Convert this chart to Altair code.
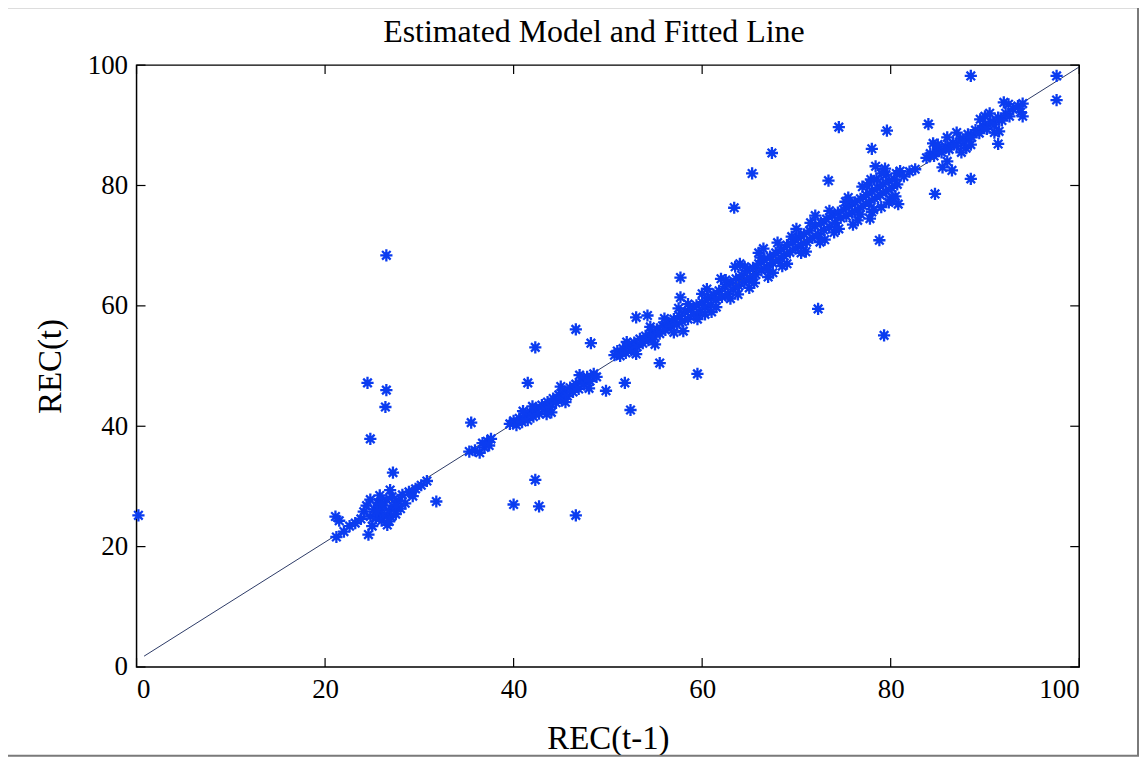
import altair as alt
import pandas as pd

# ---- data ----
rec_prev = [
    0.2, 26.5, 24.5, 26.5, 26.4, 24.8, 35.5, 42.3, 40.0, 42.7, 46.6, 42.3, 46.6, 48.2, 41.5,
    49.8, 51.8, 52.4, 53.0, 54.2, 55.5, 57.7, 57.7, 59.5, 63.4, 65.3, 67.4, 73.4, 72.3, 74.5,
    79.6, 84.0, 78.0, 84.7, 78.8, 79.3, 88.5, 97.6, 97.6, 91.4, 88.5, 31.8, 27.2,
    21.2, 21.5, 22.6, 23.2, 23.8, 24.1, 24.4, 24.6, 24.8, 25.0, 25.2, 25.4, 25.6, 25.8, 26.0,
    26.1, 26.3, 26.5, 26.6, 26.8, 27.0, 27.1, 27.3, 27.5, 27.8, 28.0, 28.2, 28.5, 28.9, 29.3,
    29.6, 30.2, 30.8, 21.1, 22.0, 25.8, 26.9,
    35.3, 35.9, 36.4, 36.9, 37.2, 37.6, 36.7, 37.4,
    39.6, 40.0, 40.3, 40.6, 40.9, 41.2, 41.5, 41.8, 42.1, 42.4, 42.7, 43.0, 43.3, 43.6, 43.9,
    44.2, 44.5, 44.8, 45.1, 45.4, 45.7, 46.0, 46.3, 46.6, 46.9, 47.2, 47.5, 47.8, 48.1, 48.5,
    48.8, 44.0, 45.5, 42.0,
    50.7, 51.0, 51.3, 51.6, 51.9, 52.2, 52.5, 52.8, 53.1, 53.4, 53.7, 54.0, 54.3, 54.6, 54.9,
    55.2, 55.5, 55.8, 56.1, 56.4,
    56.7, 57.0, 57.3, 57.6, 57.9, 58.2, 58.5, 58.8, 59.1, 59.4, 59.7, 60.0, 60.3, 60.6, 60.9,
    61.2, 61.5, 61.8, 62.1, 62.4, 62.7, 63.0, 63.3, 63.6, 63.9, 64.2, 64.5, 64.8, 65.1, 65.4,
    65.7, 66.0, 66.3, 66.6, 66.9, 67.2, 67.5, 67.8, 68.1, 68.4, 68.7, 69.0, 69.3, 69.6, 69.9,
    70.2, 70.5, 70.8, 71.1, 71.4, 71.7, 72.0, 72.3, 72.6, 72.9, 73.2, 73.5, 73.8, 74.1, 74.4,
    58.0, 60.5, 62.0, 63.0, 64.0, 65.0, 66.0, 67.0, 68.0, 69.0, 70.0, 71.0, 72.0, 73.0, 66.5,
    67.5, 63.5, 61.0, 74.0,
    74.7, 75.0, 75.3, 75.6, 75.9, 76.2, 76.5, 76.8, 77.1, 77.4, 77.7, 78.0, 78.3, 78.6, 78.9,
    79.2, 79.5, 79.8, 80.1, 80.4, 80.7, 78.0, 79.0, 80.0, 77.0, 79.5, 76.0, 80.5, 78.5, 81.0,
    81.4, 82.0, 82.6, 77.8, 79.4, 80.8,
    83.8, 84.2, 84.6, 85.0, 85.4, 85.8, 86.2, 86.6, 87.0, 87.4, 87.8, 88.2, 88.6, 89.0, 89.4,
    89.8, 90.2, 90.6, 91.0, 91.4, 91.8, 92.2, 92.6, 93.0, 93.5, 94.0, 93.8, 85.5, 86.0, 86.5,
    88.0, 87.0, 90.0, 92.0, 91.5, 94.0, 84.5,
    55.0, 56.0, 57.0, 58.5, 59.5, 60.0, 61.5, 62.5, 63.8, 64.5, 65.5, 66.2, 67.0, 68.5, 69.5,
    70.5, 71.5, 72.5, 73.5, 74.5, 75.5, 76.5, 77.5, 78.2, 79.0, 80.2, 75.2, 76.8, 77.9, 79.8,
    80.6, 78.4, 60.3, 57.5, 53.0, 52.0, 54.5, 47.0, 45.0, 43.5, 41.0, 48.0, 86.0, 88.5, 89.5,
    91.0, 92.5, 85.0, 87.5, 90.5, 26.0, 25.5, 27.5, 24.8, 26.8,
]
rec_curr = [
    25.2, 68.4, 47.2, 46.0, 43.2, 37.9, 40.6, 31.1, 27.0, 26.7, 25.2, 53.1, 56.1, 53.8, 47.2,
    45.9, 47.2, 42.7, 58.1, 58.4, 50.5, 64.7, 61.4, 48.7, 76.3, 82.0, 85.4, 80.8, 59.5, 89.7,
    89.1, 90.2, 86.1, 78.6, 70.9, 55.1, 98.2, 98.2, 94.2, 86.9, 81.1, 27.5, 32.3,
    21.6, 24.3, 23.4, 23.9, 24.6, 25.8, 26.8, 22.0, 25.0, 23.4, 26.2, 24.7, 27.3, 25.6, 24.3,
    26.8, 25.2, 27.8, 23.6, 26.0, 24.9, 28.3, 26.6, 25.4, 27.6, 26.3, 28.6, 27.2, 29.1, 28.4,
    29.6, 30.2, 30.9, 25.0, 22.5, 28.5, 29.4,
    35.8, 36.0, 35.6, 36.5, 37.5, 37.9, 37.2, 36.8,
    40.4, 40.9, 40.2, 41.3, 40.7, 41.8, 41.0, 42.3, 41.6, 42.9, 42.1, 43.5, 42.8, 44.0, 43.2,
    44.6, 43.9, 45.2, 44.5, 45.8, 45.0, 46.4, 45.7, 47.0, 46.2, 47.6, 46.9, 48.2, 47.5, 48.7,
    48.2, 42.3, 44.0, 43.3,
    51.8, 52.5, 51.7, 52.9, 52.2, 53.4, 52.6, 53.9, 53.2, 54.5, 53.8, 55.0, 54.3, 55.6, 54.9,
    56.1, 55.4, 56.7, 56.0, 57.2,
    56.6, 57.8, 56.9, 58.3, 57.4, 59.0, 57.8, 59.5, 58.5, 60.1, 59.0, 60.6, 59.7, 61.3, 60.2,
    61.9, 61.0, 62.5, 61.5, 63.2, 62.0, 63.8, 62.7, 64.5, 63.3, 65.1, 64.0, 65.8, 64.6, 66.3,
    65.2, 67.0, 65.9, 67.6, 66.4, 68.2, 67.1, 68.8, 67.6, 69.4, 68.3, 70.1, 68.9, 70.6, 69.5,
    71.3, 70.1, 71.9, 70.6, 72.5, 71.3, 73.2, 71.9, 73.8, 72.6, 74.4, 73.1, 75.0, 73.8, 75.5,
    55.8, 62.8, 64.5, 61.2, 67.0, 63.0, 68.8, 64.8, 70.5, 67.0, 72.8, 69.0, 75.0, 71.0, 69.5,
    65.5, 66.5, 59.0, 72.2,
    74.6, 76.0, 74.9, 76.6, 75.5, 77.2, 76.0, 77.8, 76.6, 78.4, 77.2, 79.0, 77.8, 79.6, 78.4,
    80.2, 79.0, 80.8, 79.6, 81.0, 80.2, 75.6, 76.4, 77.6, 79.8, 81.8, 73.5, 78.2, 81.0, 82.4,
    81.5, 82.3, 82.7, 74.5, 82.8, 76.9,
    84.6, 85.3, 84.9, 85.9, 85.5, 86.5, 86.0, 87.1, 86.6, 87.8, 87.3, 88.5, 88.0, 89.2, 88.7,
    89.9, 89.4, 90.6, 90.1, 91.3, 90.8, 92.0, 91.5, 92.7, 93.2, 93.6, 92.2, 83.0, 84.0, 82.5,
    86.2, 88.8, 91.5, 93.8, 89.0, 91.5, 87.0,
    53.6, 57.9, 55.6, 60.3, 57.8, 62.0, 59.8, 64.3, 61.9, 66.5, 63.8, 68.0, 66.0, 66.6, 71.5,
    68.8, 73.8, 70.6, 75.8, 72.8, 78.0, 74.2, 80.0, 76.0, 82.0, 78.0, 77.3, 75.2, 81.0, 77.2,
    82.0, 83.2, 58.6, 59.6, 52.0, 54.0, 56.5, 48.5, 46.6, 42.0, 42.5, 46.3, 88.0, 86.8, 91.0,
    88.8, 93.5, 86.8, 85.5, 92.0, 27.0, 25.8, 26.8, 27.8, 24.2,
]
fit_x = [0.8, 100.0]
fit_y = [1.8, 99.7]
tick_values = [0, 20, 40, 60, 80, 100]
title_text = ["Estimated Model and Fitted Line"]

# ---- layout constants ----
W, H = 946, 604
SERIF = "Liberation Serif"
TICK = 9
ASTERISK = "M0,-1L0,1M-1,0L1,0M-0.7,-0.7L0.7,0.7M-0.7,0.7L0.7,-0.7"

pts = pd.DataFrame({"prev": rec_prev, "curr": rec_curr})
fit = pd.DataFrame({"prev": fit_x, "curr": fit_y})
ticks = pd.DataFrame({"v": tick_values})
ttl = pd.DataFrame({"t": title_text})

xs = alt.Scale(domain=[0, 100], nice=False, zero=False)
ys = alt.Scale(domain=[0, 100], nice=False, zero=False)

x_axis = alt.Axis(values=tick_values, title="REC(t-1)", tickSize=0, domain=False, grid=False,
                  labelPadding=10, titlePadding=20)
y_axis = alt.Axis(values=tick_values, title="REC(t)", tickSize=0, domain=False, grid=False,
                  labelPadding=9, titlePadding=20)

line = alt.Chart(fit).mark_line(color="#2c3a66", strokeWidth=1).encode(
    x=alt.X("prev:Q", scale=xs, axis=x_axis),
    y=alt.Y("curr:Q", scale=ys, axis=y_axis),
)

points = alt.Chart(pts).mark_point(
    shape=ASTERISK, filled=False, color="#0b3cf0", strokeWidth=2.3, size=150, opacity=1
).encode(
    x=alt.X("prev:Q", scale=xs),
    y=alt.Y("curr:Q", scale=ys),
)

tick_bottom = alt.Chart(ticks).mark_rule(color="black", strokeWidth=1.2).encode(
    x=alt.X("v:Q", scale=xs), y=alt.value(H), y2=alt.value(H - TICK))
tick_top = alt.Chart(ticks).mark_rule(color="black", strokeWidth=1.2).encode(
    x=alt.X("v:Q", scale=xs), y=alt.value(0), y2=alt.value(TICK))
tick_left = alt.Chart(ticks).mark_rule(color="black", strokeWidth=1.2).encode(
    y=alt.Y("v:Q", scale=ys), x=alt.value(0), x2=alt.value(TICK))
tick_right = alt.Chart(ticks).mark_rule(color="black", strokeWidth=1.2).encode(
    y=alt.Y("v:Q", scale=ys), x=alt.value(W), x2=alt.value(W - TICK))

border = alt.Chart(ttl).mark_rect(filled=False, color="#7a7a7a", strokeWidth=2).encode(
    x=alt.value(-131), x2=alt.value(1005), y=alt.value(-58), y2=alt.value(693))

title = alt.Chart(ttl).mark_text(
    font=SERIF, fontSize=32, color="black", align="center", baseline="middle"
).encode(x=alt.value(W / 2 - 14), y=alt.value(-33), text="t:N")

chart = alt.layer(border, line, points, tick_bottom, tick_top, tick_left, tick_right, title).properties(
    width=W, height=H,
    autosize=alt.AutoSizeParams(type="none"),
    padding={"left": 129, "top": 56, "right": 61, "bottom": 90},
).configure_view(
    stroke="black", strokeWidth=1.5
).configure_axis(
    labelFont=SERIF, labelFontSize=27, labelColor="black", labelFontWeight="normal",
    titleFont=SERIF, titleFontSize=33, titleColor="black", titleFontWeight="normal",
)

chart.save("out.html", embed_options={"renderer": "svg", "actions": False})
